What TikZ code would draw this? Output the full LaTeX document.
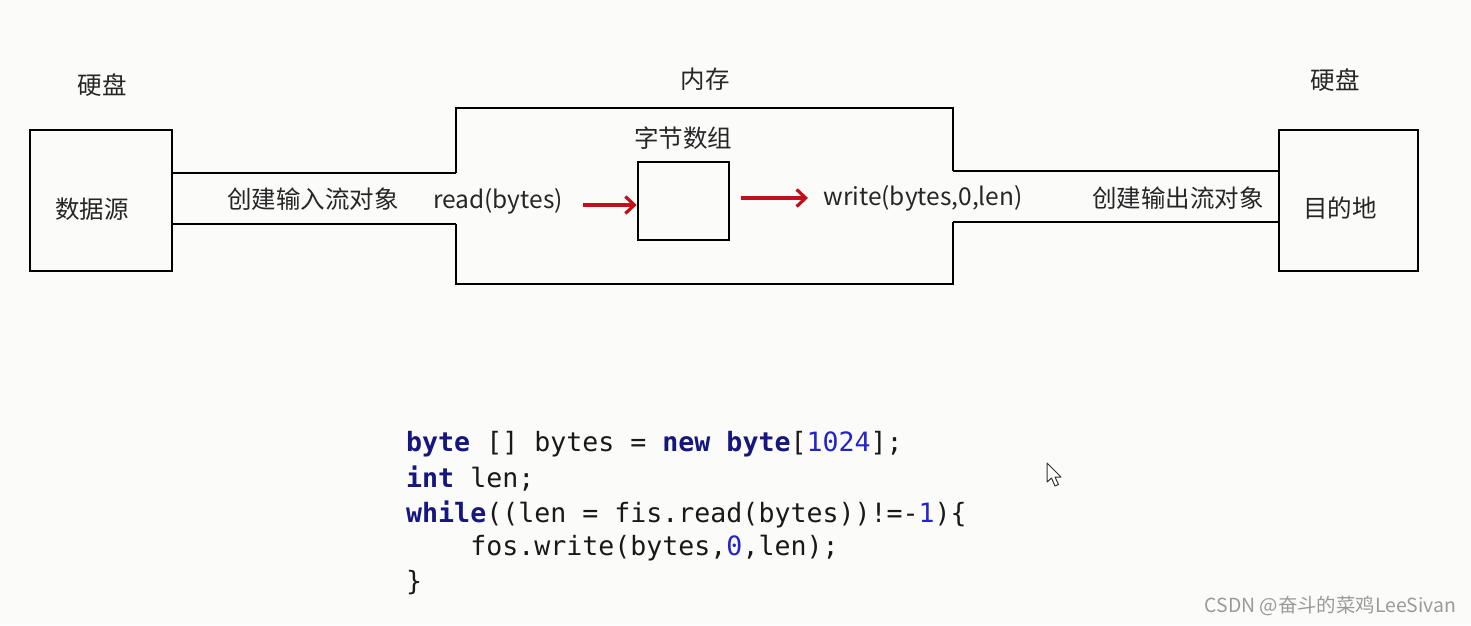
\documentclass[tikz,border=0pt]{standalone}
\usepackage{fontspec}
\setmainfont{Noto Sans CJK SC}
\newfontfamily\codefont{DejaVu Sans Mono}
\usetikzlibrary{arrows.meta}
\definecolor{bgc}{HTML}{FBFCFA}
\definecolor{kw}{HTML}{16167E}
\definecolor{num}{HTML}{2424C8}
\definecolor{arr}{HTML}{C0101C}
\definecolor{wm}{HTML}{9A9A9A}
\begin{document}
\begin{tikzpicture}[x=1pt,y=-1pt,
  box/.style={draw=black,line width=2.6pt,inner sep=0pt},
  wire/.style={draw=black,line width=2.6pt},
  lbl/.style={font=\fontsize{24.5}{28}\selectfont,text=black!85,inner sep=0pt},
  lat/.style={font=\fontsize{24.5}{28}\selectfont,text=black!85,inner sep=0pt},
  redarrow/.style={draw=arr,line width=3.2pt,-{Straight Barb[length=9pt,width=17pt,line width=3.2pt]}},
  code/.style={anchor=west,inner sep=0pt,font=\codefont\fontsize{26.6}{30}\selectfont,text=black!90},
  wmark/.style={font=\fontsize{19.4}{22}\selectfont,text=wm,inner sep=0pt}]
\fill[bgc] (0,0) rectangle (1471,625);
\useasboundingbox (0,0) rectangle (1471,625);

% left disk box
\node[box,minimum width=142pt,minimum height=141pt] (src) at (101,200.5) {};
\node[lbl] (srct) at (92,209) {数据源};
\node[lbl] (hd1) at (102,85) {硬盘};

% right disk box
\node[box,minimum width=139pt,minimum height=141pt] (dst) at (1348.5,200.5) {};
\node[lbl] (dstt) at (1340,208) {目的地};
\node[lbl] (hd2) at (1335,80) {硬盘};

% memory box with notches
\coordinate (mL1) at (456,173);
\coordinate (mL2) at (456,224);
\coordinate (mR1) at (953,171);
\coordinate (mR2) at (953,222);
\draw[wire,line join=miter] (mL1) -- (456,108) -- (953,108) -- (mR1);
\draw[wire,line join=miter] (mL2) -- (456,284) -- (953,284) -- (mR2);
\node[lbl] (memt) at (705,79) {内存};

% channels
\draw[wire] (src.east |- mL1) -- (mL1);
\draw[wire] (src.east |- mL2) -- (mL2);
\draw[wire] (mR1) -- (dst.west |- mR1);
\draw[wire] (mR2) -- (dst.west |- mR2);
\node[lbl] (inst) at (313,199) {创建输入流对象};
\node[lbl] (outst) at (1178,198) {创建输出流对象};

% byte array
\node[box,minimum width=91pt,minimum height=78pt] (arrbox) at (683.5,201) {};
\node[lbl] (arrt) at (683,138) {字节数组};
\node[lat] (readt) at (498,201) {read(bytes)};
\node[lat] (writet) at (923,198) {write(bytes,0,len)};
\coordinate (ra) at (583,205);
\coordinate (wb) at (808,198);
\draw[redarrow] (ra) -- (arrbox.west |- ra);
\draw[redarrow] (arrbox.east |- wb) ++(11,0) -- (wb);

% code
\node[code] (c1) at (406,444) {\textcolor{kw}{\bfseries byte} [] bytes = \textcolor{kw}{\bfseries new} \textcolor{kw}{\bfseries byte}[\textcolor{num}{1024}];};
\node[code] (c2) at (406,479) {\textcolor{kw}{\bfseries int} len;};
\node[code] (c3) at (406,514) {\textcolor{kw}{\bfseries while}((len = fis.read(bytes))!=-\textcolor{num}{1})\{};
\node[code] (c4) at (406,548) {\phantom{xxxx}fos.write(bytes,\textcolor{num}{0},len);};
\node[code] (c5) at (406,583) {\}};

% mouse cursor
\draw[black!80,fill=white,line width=1pt,line join=round]
  (1047,463) -- (1047,482) -- (1051.5,478) -- (1055,486) -- (1058.5,484.5) -- (1055,477) -- (1061,477) -- cycle;

% watermark
\node[wmark,anchor=east] (wmt) at (1456,606) {CSDN @奋斗的菜鸡LeeSivan};
\end{tikzpicture}
\end{document}
